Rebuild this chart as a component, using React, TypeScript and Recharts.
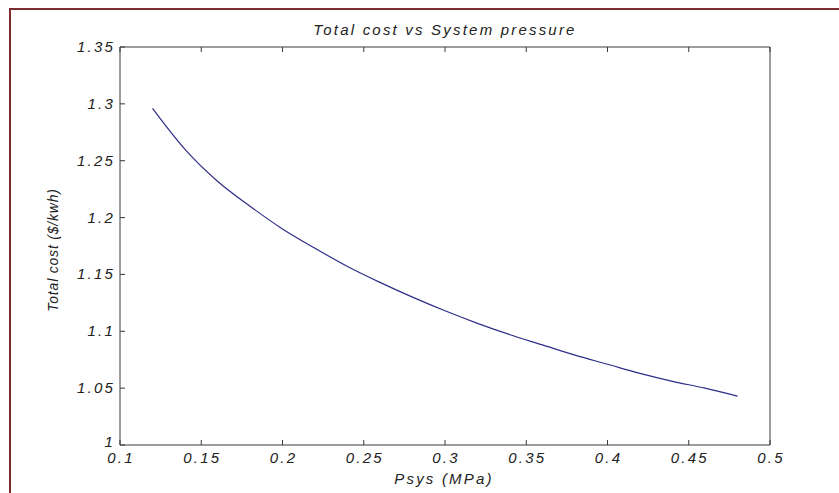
import { LineChart, Line, XAxis, YAxis, Label } from "recharts";

const pressure = [0.12, 0.14, 0.16, 0.18, 0.2, 0.22, 0.24, 0.26, 0.28, 0.3, 0.32, 0.34, 0.36, 0.38, 0.4, 0.42, 0.44, 0.46, 0.48];
const totalCost = [1.296, 1.26, 1.232, 1.21, 1.19, 1.173, 1.157, 1.143, 1.13, 1.118, 1.107, 1.097, 1.088, 1.079, 1.071, 1.063, 1.056, 1.05, 1.043];
const xTicks = [0.1, 0.15, 0.2, 0.25, 0.3, 0.35, 0.4, 0.45, 0.5];
const yTicks = [1, 1.05, 1.1, 1.15, 1.2, 1.25, 1.3, 1.35];

const data = pressure.map((p, i) => ({ psys: p, cost: totalCost[i] }));

const AXIS = "#3a3a3a";
const FONT = "'Liberation Sans', Arial, sans-serif";
const textStyle = { fontFamily: FONT, fontStyle: "italic", fontSize: 15, fill: "#222", letterSpacing: 2.2 };

const BottomTick = (props: any) => {
  const { x, y, payload } = props;
  return (
    <g>
      <line x1={x} x2={x} y1={y} y2={y - 5} stroke={AXIS} />
      <text x={x + 1} y={y + 18} textAnchor="middle" style={textStyle}>{String(payload.value)}</text>
    </g>
  );
};

const TopTick = (props: any) => {
  const { x, y } = props;
  return <line x1={x} x2={x} y1={y} y2={y + 5} stroke={AXIS} />;
};

const LeftTick = (props: any) => {
  const { x, y, payload } = props;
  // the "1" label sits a little higher, as in the original, so it clears "0.1"
  const dy = payload.value === 1 ? 2 : 5;
  return (
    <g>
      <line x1={x} x2={x + 5} y1={y} y2={y} stroke={AXIS} />
      <text x={x - 5} y={y + dy} textAnchor="end" style={textStyle}>{String(payload.value)}</text>
    </g>
  );
};

const RightTick = (props: any) => {
  const { x, y } = props;
  return <line x1={x} x2={x - 5} y1={y} y2={y} stroke={AXIS} />;
};

export default function App() {
  return (
    <div style={{ position: "fixed", left: 0, top: 0, width: 839, height: 493, background: "#fff" }}>
      <div
        style={{
          position: "absolute",
          left: 9,
          top: 8,
          width: 840,
          height: 500,
          borderLeft: "2px solid #7a2e2e",
          borderTop: "2px solid #7a2e2e",
        }}
      />
      <div
        style={{
          position: "absolute",
          left: 245,
          width: 400,
          top: 21,
          textAlign: "center",
          fontFamily: FONT,
          fontStyle: "italic",
          fontSize: 15,
          letterSpacing: 2.2,
          color: "#222",
        }}
      >
        Total cost vs System pressure
      </div>
      <LineChart width={839} height={493} data={data} margin={{ top: 46, right: 68, bottom: 0, left: 0 }}>
        <XAxis
          xAxisId="b"
          dataKey="psys"
          type="number"
          domain={[0.1, 0.5]}
          ticks={xTicks}
          height={48}
          tickSize={0}
          tickMargin={0}
          tickLine={false}
          axisLine={{ stroke: AXIS }}
          tick={<BottomTick />}
          interval={0}
        >
          <Label
            content={() => (
              <text x={444} y={484} textAnchor="middle" style={textStyle}>Psys (MPa)</text>
            )}
          />
        </XAxis>
        <XAxis
          xAxisId="t"
          orientation="top"
          dataKey="psys"
          type="number"
          domain={[0.1, 0.5]}
          ticks={xTicks}
          height={1}
          tickSize={0}
          tickMargin={0}
          tickLine={false}
          axisLine={{ stroke: AXIS }}
          tick={<TopTick />}
          interval={0}
        />
        <YAxis
          yAxisId="l"
          type="number"
          domain={[1, 1.35]}
          ticks={yTicks}
          width={120}
          tickSize={0}
          tickMargin={0}
          tickLine={false}
          axisLine={{ stroke: AXIS }}
          tick={<LeftTick />}
          interval={0}
        >
          <Label
            content={() => (
              <text
                x={58}
                y={250}
                transform="rotate(-90 58 250)"
                textAnchor="middle"
                style={{ ...textStyle, fontSize: 14, letterSpacing: 0.8 }}
              >
                Total cost ($/kwh)
              </text>
            )}
          />
        </YAxis>
        <YAxis
          yAxisId="r"
          orientation="right"
          type="number"
          domain={[1, 1.35]}
          ticks={yTicks}
          width={1}
          tickSize={0}
          tickMargin={0}
          tickLine={false}
          axisLine={{ stroke: AXIS }}
          tick={<RightTick />}
          interval={0}
        />
        <Line
          xAxisId="b"
          yAxisId="l"
          dataKey="cost"
          type="monotone"
          stroke="#2e2e88"
          strokeWidth={1.2}
          dot={false}
          isAnimationActive={false}
        />
      </LineChart>
    </div>
  );
}
